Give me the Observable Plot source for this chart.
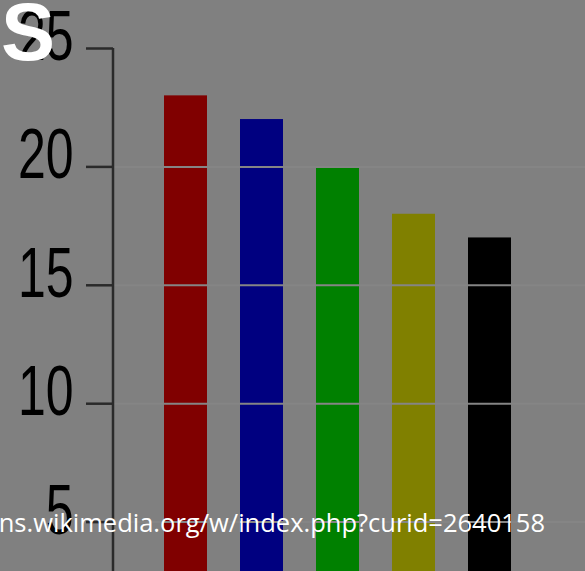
<!DOCTYPE html>
<html>
<head>
<meta charset="utf-8">
<script src="https://cdn.jsdelivr.net/npm/d3@7"></script>
<script src="https://cdn.jsdelivr.net/npm/@observablehq/plot@0.6"></script>
<style>
  html, body { margin: 0; padding: 0; background: #808080; overflow: hidden; }
  #wrap { position: relative; width: 585px; height: 571px; overflow: hidden; background: #808080; }
  #title { position: absolute; left: 1px; top: -8px; font-family: "Liberation Sans", Arial, sans-serif; font-weight: bold; font-size: 81px; color: #fff; line-height: 1; }
  #caption { position: absolute; right: 40px; top: 507px; font-family: "Open Sans", "Noto Sans", sans-serif; font-size: 25.5px; color: #fff; white-space: nowrap; line-height: 1.2; }
</style>
</head>
<body>
<div id="wrap">
  <div id="chart"></div>
  <div id="title">S</div>
  <div id="caption">ns.wikimedia.org/w/index.php?curid=2640158</div>
</div>
<script>
const categories = ["A", "B", "C", "D", "E"];
const values = [23, 22, 20, 18, 17];
const colors = ["#800000", "#000080", "#008000", "#808000", "#000000"];
const yTicks = [5, 10, 15, 20, 25];
const gridLines = [5, 10, 15, 20];

const data = categories.map((c, i) => ({cat: c, value: values[i], color: colors[i]}));

const axisLine = (index, scales) => {
  const g = d3.create("svg:g");
  const x0 = 113;
  g.append("line")
    .attr("x1", x0).attr("x2", x0)
    .attr("y1", scales.y(25)).attr("y2", scales.y(0))
    .attr("stroke", "#2a2a2a").attr("stroke-width", 2.5);
  return g.node();
};

const chart = Plot.plot({
  width: 585,
  height: 571,
  marginLeft: 113,
  marginRight: 0,
  marginTop: 0,
  marginBottom: 0,
  style: {background: "#808080", overflow: "hidden"},
  x: {domain: categories, range: [146, 529], padding: 0.44, paddingOuter: 0.22, axis: null},
  y: {domain: [0, 25], range: [640, 48], axis: null},
  marks: [
    Plot.barY(data, {x: "cat", y: "value", fill: "color"}),
    Plot.ruleY(gridLines, {stroke: "#858585", strokeWidth: 2}),
    Plot.axisY({
      ticks: yTicks,
      anchor: "left",
      label: null,
      tickSize: 27,
      tickPadding: 13,
      fontSize: 50,
      stroke: "#2a2a2a",
      strokeWidth: 2.5,
      fill: "#000",
      tickFormat: d => String(d)
    }),
    axisLine
  ]
});
chart.style.fontFamily = "'Liberation Sans', Arial, sans-serif";
document.getElementById("chart").appendChild(chart);

d3.select(chart).selectAll('g[aria-label="y-axis tick label"] text').each(function() {
  const t = this.getAttribute("transform") || "";
  const x = +this.getAttribute("x") || 0;
  const y = +this.getAttribute("y") || 0;
  this.setAttribute("transform", `${t} translate(0,-11) translate(${x},${y}) scale(1,1.4) translate(${-x},${-y})`);
  this.setAttribute("font-weight", "normal");
});
</script>
</body>
</html>
